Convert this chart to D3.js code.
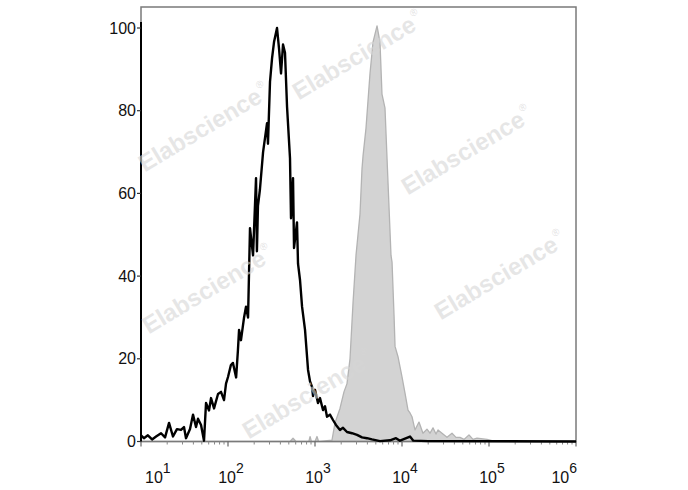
<!DOCTYPE html>
<html>
<head>
<meta charset="utf-8">
<script src="https://cdn.jsdelivr.net/npm/d3@7"></script>
<style>
  html, body { margin: 0; padding: 0; background: #fff; }
  svg { display: block; font-family: "Liberation Sans", Arial, sans-serif; }
</style>
</head>
<body>
<svg id="chart" width="688" height="490"></svg>
<script>
// ---- data (fluorescence intensity, % of max) ----
const blackX = [10, 10.8, 12.0, 13.4, 14.9, 17.0, 18.9, 21.0, 23.3, 25.9, 28.8, 31.2, 32.9, 36.6, 39.6, 42.9, 45.2, 49.0, 53.0, 55.9, 60.5, 63.8, 69.1, 76.8, 83.1, 90.0, 94.9, 100, 108, 114, 124, 130, 134, 141, 153, 161, 170, 179, 194, 210, 215, 221, 233, 253, 281, 288, 304, 321, 338, 366, 386, 407, 429, 452, 477, 516, 530, 559, 574, 621, 638, 673, 710, 768, 832, 877, 925, 949, 1000, 1082, 1141, 1236, 1303, 1374, 1486, 1610, 1742, 1937, 2098, 2333, 2661, 3041, 3470, 3962, 4520, 5584, 7277, 8535, 9485, 12360, 13500, 20000, 1000000];
const blackY = [1.5, 0.8, 1.5, 0.5, 1.2, 2.0, 1.0, 4.5, 1.2, 3.0, 2.8, 3.5, 0.8, 3.0, 6.5, 3.5, 5.5, 4.0, 0.2, 9.3, 7.5, 10.5, 8.0, 11.5, 12.0, 10.0, 14.0, 15.6, 18.5, 19.0, 15.5, 22.0, 27.0, 24.5, 30.0, 32.6, 30.0, 51.6, 45.0, 63.7, 46.0, 57.0, 61.0, 70.0, 77.0, 72.0, 87.0, 92.7, 96.6, 100, 95.0, 89.0, 96.0, 94.0, 81.0, 68.5, 54.0, 63.7, 46.8, 53.0, 43.0, 39.0, 32.6, 27.0, 17.3, 14.5, 13.2, 11.0, 12.5, 9.3, 10.5, 7.6, 8.5, 6.0, 6.5, 5.2, 4.0, 2.8, 3.3, 2.3, 2.0, 1.6, 1.0, 0.8, 0.5, 0.1, 0.3, 0.8, 0.2, 1.2, 0.2, 0.1, 0.0];

const grayX = [10, 516, 559, 605, 850, 877, 910, 1000, 1054, 1100, 1141, 1567, 1698, 1937, 2153, 2333, 2525, 2735, 2960, 3120, 3290, 3470, 3563, 3857, 4287, 4645, 5163, 5584, 5888, 6377, 6904, 7475, 7681, 8097, 8318, 8995, 10000, 10830, 11720, 12360, 13030, 14100, 15670, 17420, 19370, 20980, 22710, 24590, 25930, 28840, 32900, 37560, 41750, 46430, 51630, 58880, 65460, 72770, 94850, 117200, 1000000];
const grayY = [0, 0, 0.8, 0, 0, 1.2, 0, 0, 1.2, 0, 0, 0.3, 4.5, 8.0, 12.0, 14.0, 20.0, 33.5, 45.0, 50.0, 55.0, 66.0, 69.0, 75.8, 89.0, 96.6, 100.5, 96.6, 84.0, 80.6, 62.7, 45.0, 43.4, 30.6, 23.0, 20.5, 15.6, 11.7, 7.6, 6.9, 6.0, 2.8, 4.7, 2.0, 3.0, 2.0, 3.3, 1.8, 2.8, 2.0, 1.0, 2.0, 1.0, 1.0, 0.5, 1.6, 0.5, 0.8, 0.5, 0, 0];

const xTickExps = [1, 2, 3, 4, 5, 6];
const yTicks = [0, 20, 40, 60, 80, 100];
const watermarkText = "Elabscience";

// ---- layout ----
const svg = d3.select("#chart");
const pL = 141, pR = 576, pT = 7, pB = 441.5;
const x = d3.scaleLog().domain([10, 1e6]).range([pL, pR]);
const y = d3.scaleLinear().domain([0, 100]).range([pB, 28]);

const black = blackX.map((v, i) => ({x: v, y: blackY[i]}));
const gray = grayX.map((v, i) => ({x: v, y: grayY[i]}));

// gray filled histogram
svg.append("path")
  .datum(gray)
  .attr("d", d3.area().x(d => x(d.x)).y0(y(0)).y1(d => y(d.y)))
  .attr("fill", "#d3d3d3")
  .attr("stroke", "#b3b3b3")
  .attr("stroke-width", 1.3)
  .attr("stroke-linejoin", "round");

// frame (gray)
svg.append("rect")
  .attr("x", pL).attr("y", pT)
  .attr("width", pR - pL).attr("height", pB - pT)
  .attr("fill", "none").attr("stroke", "#7a7a7a").attr("stroke-width", 1.5);

// x minor/major ticks
const xg = svg.append("g");
for (let e = 1; e <= 6; e++) {
  xg.append("line").attr("x1", x(Math.pow(10, e))).attr("x2", x(Math.pow(10, e)))
    .attr("y1", pB).attr("y2", pB + 5).attr("stroke", "#666").attr("stroke-width", 1.2);
  if (e < 6) {
    for (let m = 2; m <= 9; m++) {
      const px = x(m * Math.pow(10, e));
      xg.append("line").attr("x1", px).attr("x2", px)
        .attr("y1", pB).attr("y2", pB + 3).attr("stroke", "#888").attr("stroke-width", 1);
    }
  }
}

// black histogram line
svg.append("path")
  .datum(black)
  .attr("d", d3.line().x(d => x(d.x)).y(d => y(d.y)))
  .attr("fill", "none")
  .attr("stroke", "#000")
  .attr("stroke-width", 2.4)
  .attr("stroke-linejoin", "round");

// left axis line (black)
svg.append("line").attr("x1", pL).attr("x2", pL).attr("y1", 22).attr("y2", pB)
  .attr("stroke", "#000").attr("stroke-width", 2);

// y ticks + labels
yTicks.forEach(t => {
  svg.append("line").attr("x1", pL - 4).attr("x2", pL).attr("y1", y(t)).attr("y2", y(t))
    .attr("stroke", "#333").attr("stroke-width", 1.2);
  svg.append("text")
    .attr("x", pL - 5).attr("y", y(t) + 5.5)
    .attr("text-anchor", "end")
    .attr("font-size", 16).attr("fill", "#111")
    .text(t);
});

// x labels (10^n)
xTickExps.forEach((e, i) => {
  const px = x(Math.pow(10, e));
  let anchor = "middle", lx = px + 3;
  if (i === 0) { anchor = "start"; lx = px + 4; }
  if (i === xTickExps.length - 1) { anchor = "end"; lx = px + 1; }
  const t = svg.append("text")
    .attr("x", lx).attr("y", 483)
    .attr("text-anchor", anchor)
    .attr("font-size", 16).attr("fill", "#111");
  t.append("tspan").text("10");
  t.append("tspan").attr("dy", -10).attr("font-size", 14).text(e);
});

// watermarks
const wmCenters = [[200, 130], [354, 58], [463, 153], [204, 292], [496, 278], [304, 397]];
wmCenters.forEach(([cx, cy]) => {
  const g = svg.append("g").attr("transform", `translate(${cx},${cy}) rotate(-31)`);
  g.append("text")
    .attr("x", 0).attr("y", 8)
    .attr("text-anchor", "middle")
    .attr("font-size", 24).attr("font-weight", "bold")
    .attr("fill", "#d6d6d6").attr("fill-opacity", 0.6)
    .text(watermarkText);
  g.append("text")
    .attr("x", 71).attr("y", -5)
    .attr("font-size", 10)
    .attr("fill", "#d6d6d6").attr("fill-opacity", 0.7)
    .text("®");
});
</script>
</body>
</html>
